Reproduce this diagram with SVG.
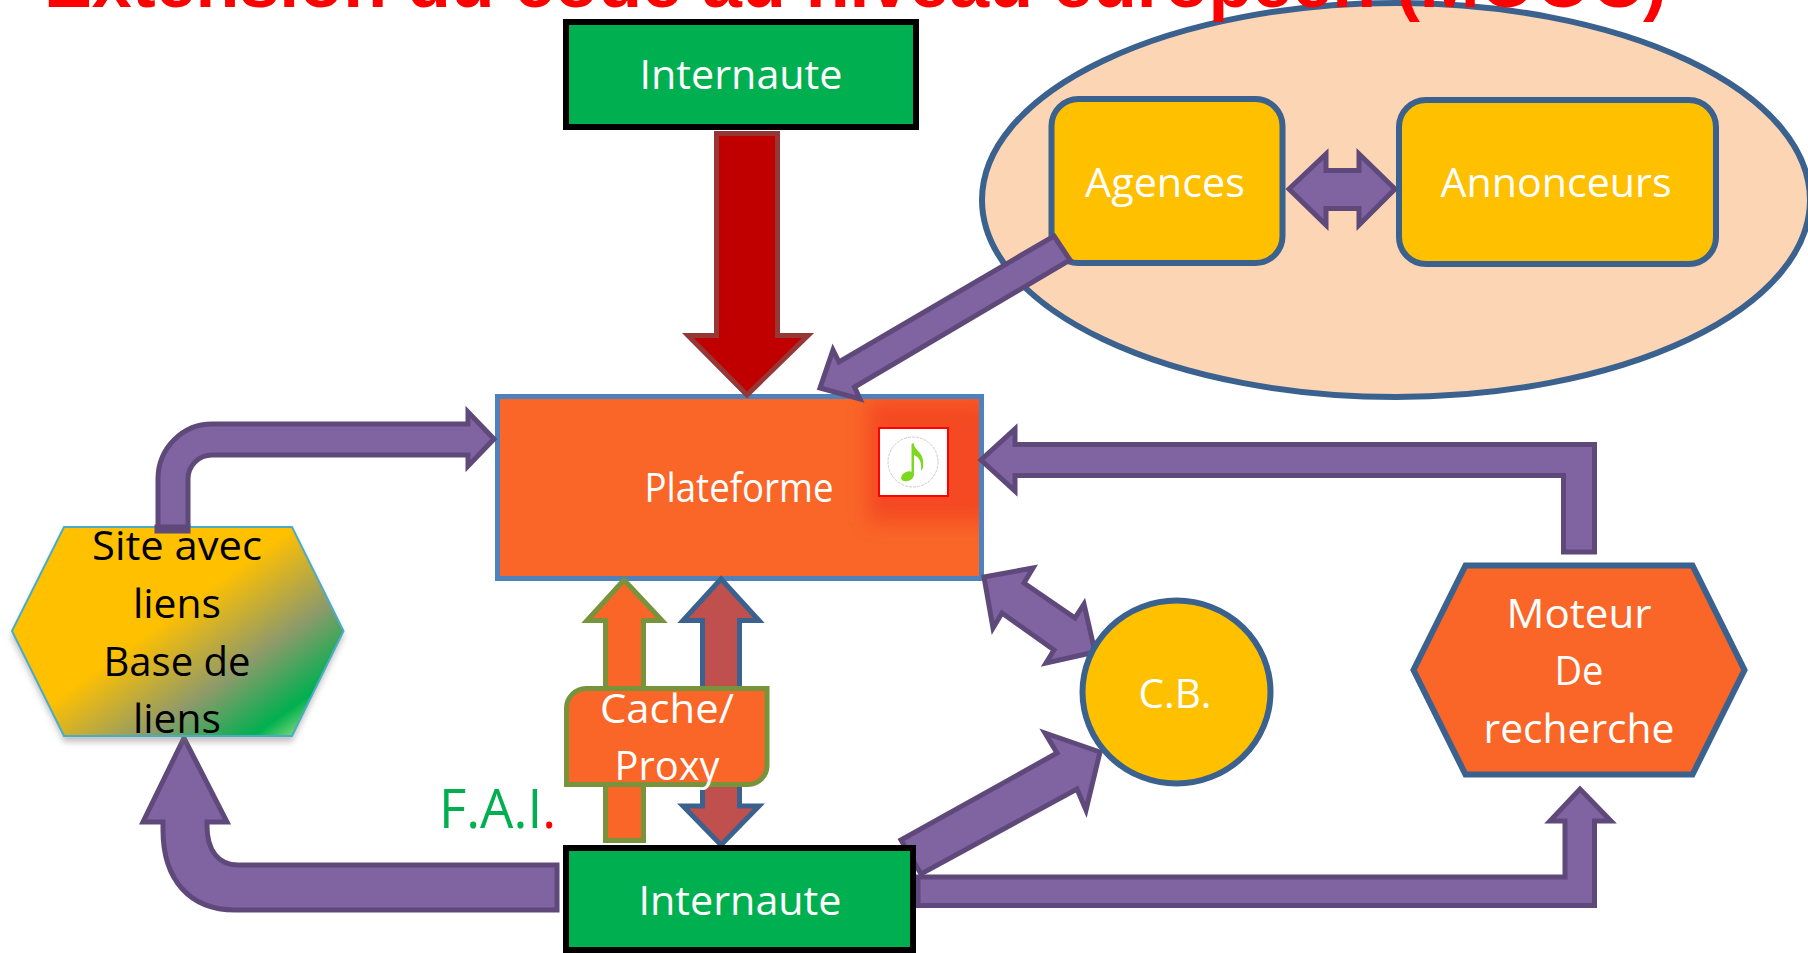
<svg xmlns="http://www.w3.org/2000/svg" width="1808" height="953" viewBox="0 0 1808 953">
<style>
text{font-family:"Open Sans","Liberation Sans",sans-serif;font-size:40px;text-anchor:middle;fill:#fff}
.dark{fill:#000}
.p{fill:#8064A2;stroke:#5F497A;stroke-width:5;stroke-linejoin:miter}
.net{fill:#00B050;stroke:#000;stroke-width:6}
.gold{fill:#FFC000;stroke:#3B618F;stroke-width:6}
.org{fill:#F96628}
</style>
<defs>
<linearGradient id="siteGrad" gradientUnits="userSpaceOnUse" x1="165" y1="620" x2="262" y2="754">
<stop offset="0" stop-color="#FFC000"/><stop offset="0.5" stop-color="#8E9A6A"/><stop offset="0.88" stop-color="#00B050"/><stop offset="1" stop-color="#62D070"/>
</linearGradient>
<filter id="glow" x="-50%" y="-50%" width="200%" height="200%"><feGaussianBlur stdDeviation="10"/></filter>
<filter id="shadow" x="-10%" y="-10%" width="120%" height="120%"><feGaussianBlur stdDeviation="3"/></filter>
<clipPath id="platClip"><rect x="500" y="399" width="479" height="177"/></clipPath>
</defs>
<rect width="1808" height="953" fill="#fff"/>
<g id="group-annonce">
<ellipse cx="1396" cy="200" rx="414" ry="197" fill="#FCD5B5" stroke="#3B618F" stroke-width="6"/>
</g>
<text id="title" x="855.500" y="7" textLength="1623" lengthAdjust="spacingAndGlyphs" style="font-family:'Liberation Sans',sans-serif;font-weight:700;font-size:72px;fill:#f00">Extension du code au niveau européen (MOOC)</text>
<g id="node-internaute-top"><rect class="net" x="566" y="22" width="350" height="105"/><text x="741" y="89" textLength="203" lengthAdjust="spacingAndGlyphs">Internaute</text></g>
<g id="node-agences"><rect class="gold" x="1051.500" y="99" width="231" height="164" rx="27"/><text x="1165" y="197" textLength="160" lengthAdjust="spacingAndGlyphs">Agences</text></g>
<g id="node-annonceurs"><rect class="gold" x="1399" y="100" width="317" height="164" rx="27"/><text x="1556" y="197" textLength="231" lengthAdjust="spacingAndGlyphs">Annonceurs</text></g>
<g id="node-plateforme">
<rect class="org" x="497.500" y="396.500" width="484" height="182" stroke="#4F81BD" stroke-width="5"/>
<g clip-path="url(#platClip)"><rect x="868" y="400" width="130" height="122" fill="#F44A22" filter="url(#glow)"/></g>
<rect x="879" y="428" width="69" height="68" fill="#fff" stroke="#f00" stroke-width="2"/>
<circle cx="913" cy="462" r="25" fill="#fff" stroke="#ccc" stroke-width="1" stroke-dasharray="3 1"/>
<path d="M914 443V474C914 479 909 482 904 481C899 480 901 474 906 472C908 471 911 471 911.500 472V444ZM914 445C916 452 925 452 923 468C922 470 921 471 921 470C922 462 919 457 914 455Z" fill="#7FD820"/>
<text x="739" y="502" textLength="189" lengthAdjust="spacingAndGlyphs">Plateforme</text>
</g>
<g id="connectors">
<path class="p" d="M158 531V478A54 55 0 0 1 212 424H468V412L494 439L468 466V455H212A24 24 0 0 0 188 479V531Z"/>
<path d="M716.500 133.500H777.500V335.500H808L747 395L688 335.500H716.500Z" fill="#C00000" stroke="#953735" stroke-width="5"/>
<path class="p" d="M1054 236L1070 260L854.500 387L860 399L820 388L833 350L839 362Z"/>
<path class="p" d="M1289 189L1326 154V170.500H1359V154L1395 189L1359 225V208.500H1326V225Z"/>
<path class="p" d="M1594.500 552V444.500H1015V429L981 460L1015 491V475.500H1563.500V552Z"/>
<path class="p" d="M984 577L1033 568L1024 583L1075 618L1084 604L1095 652L1046 663L1054 650L1002 613L993 628Z"/>
<path class="p" d="M901 840L1057 753L1045 733L1100 752L1086 810L1077 789L921 874Z"/>
<path class="p" d="M557 865H238C218 865 207 850 207 826V822H227L184 738L143 822H163V830C163 880 190 910 235 910H557Z"/>
<path class="p" d="M918 877H1565V821H1550L1580 789L1611 821H1594.500V905.500H918Z"/>
<path d="M605.500 840.500V620.500H587L624 580L662 620.500H643.500V840.500Z" fill="#F96628" stroke="#77933C" stroke-width="5"/>
<path d="M721 579L759 620.500H739.500V806H759L721 845L683 806H702.500V620.500H683Z" fill="#C0504D" stroke="#3B618F" stroke-width="5"/>
</g>
<g id="node-site">
<path d="M64 531H292L344 636L292 742H64L11 636Z" fill="#777" opacity=".45" filter="url(#shadow)"/>
<path d="M64 527H292L343.500 631L292 736H64L12 631Z" fill="url(#siteGrad)" stroke="#4BACC6" stroke-width="2"/>
<path d="M157 527H188V531H157Z" fill="#8064A2" stroke="#5F497A" stroke-width="5"/>
<text class="dark" x="177" y="560" textLength="170" lengthAdjust="spacingAndGlyphs">Site avec</text><text class="dark" x="177" y="618" textLength="88" lengthAdjust="spacingAndGlyphs">liens</text><text class="dark" x="177" y="676" textLength="147" lengthAdjust="spacingAndGlyphs">Base de</text><text class="dark" x="177" y="733" textLength="88" lengthAdjust="spacingAndGlyphs">liens</text>
</g>
<g id="node-cache"><path class="org" d="M586 688.500H767V765A19 19 0 0 1 748 784.500H566.500V708A20 20 0 0 1 586 688.500Z" stroke="#77933C" stroke-width="5"/><text x="667" y="723" textLength="134" lengthAdjust="spacingAndGlyphs">Cache/</text><text x="667" y="780" textLength="105" lengthAdjust="spacingAndGlyphs">Proxy</text></g>
<g id="node-internaute-bottom"><rect class="net" x="566" y="848" width="347" height="102"/><text x="740" y="915" textLength="203" lengthAdjust="spacingAndGlyphs">Internaute</text></g>
<g id="node-cb"><ellipse class="gold" cx="1176.500" cy="692" rx="94" ry="91.500"/><text x="1175" y="708" textLength="73" lengthAdjust="spacingAndGlyphs">C.B.</text></g>
<g id="node-moteur"><path class="org" d="M1465.500 565.500H1692.500L1744.500 670L1692.500 774.500H1465.500L1413.500 670Z" stroke="#3B618F" stroke-width="6"/><text x="1579" y="628" textLength="145" lengthAdjust="spacingAndGlyphs">Moteur</text><text x="1579" y="685" textLength="49" lengthAdjust="spacingAndGlyphs">De</text><text x="1579" y="743" textLength="191" lengthAdjust="spacingAndGlyphs">recherche</text></g>
<text id="label-fai" x="497.500" y="828" textLength="117" lengthAdjust="spacingAndGlyphs" style="font-size:54px;fill:#00B050">F.A.I<tspan fill="#f00">.</tspan></text>
</svg>
